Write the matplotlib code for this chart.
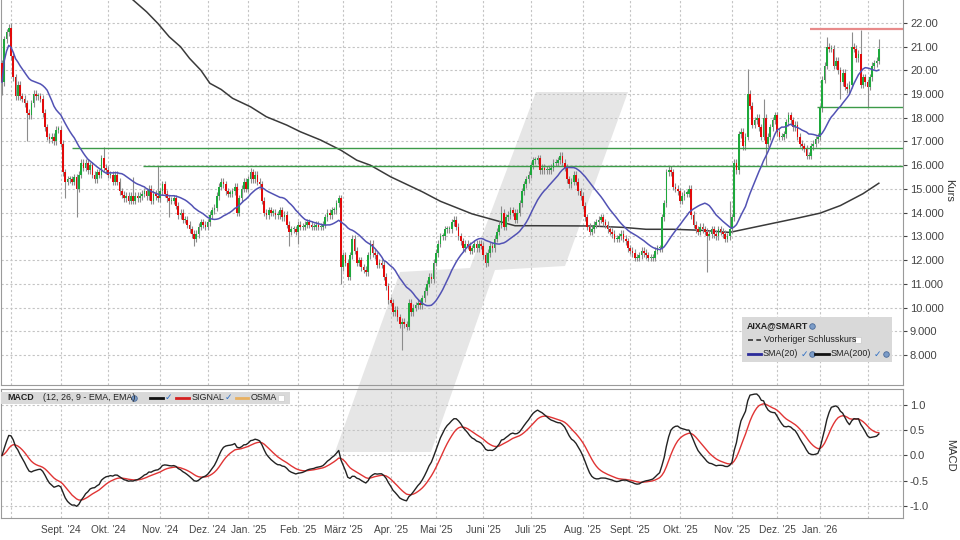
import numpy as np
import pandas as pd
import matplotlib
matplotlib.use("Agg")
import matplotlib.pyplot as plt
from matplotlib.patches import Polygon, Rectangle
from matplotlib.lines import Line2D

plt.rcParams['font.family'] = ['Liberation Sans', 'DejaVu Sans']

# Xetra trading days, end of July 2024 to early February 2026
holidays = ["2024-12-24", "2024-12-25", "2024-12-26", "2024-12-31", "2025-01-01",
            "2025-04-18", "2025-04-21", "2025-05-01", "2025-12-24", "2025-12-25",
            "2025-12-26", "2025-12-31", "2026-01-01"]
dates = pd.bdate_range("2024-07-26", "2026-02-09")
dates = dates[~dates.isin(pd.to_datetime(holidays))]

# daily closes
closes = [
    19.5, 21.3, 21.6, 21.8, 20.6, 19.7, 18.9, 19.4, 18.9, 18.8,
    18.6, 18.2, 18.1, 18.6, 19.0, 18.9, 18.9, 18.8, 18.2, 17.6,
    17.2, 17.1, 17.2, 17.0, 17.5, 17.5, 16.9, 15.7, 15.3, 15.4,
    15.4, 15.3, 15.5, 15.0, 15.6, 16.1, 15.9, 16.1, 15.8, 16.0,
    15.6, 15.4, 15.7, 15.6, 16.3, 15.9, 15.8, 15.6, 15.6, 15.3,
    15.6, 15.3, 14.9, 14.75, 14.6, 14.7, 14.5, 14.7, 14.5, 14.7,
    14.6, 14.7, 14.8, 14.9, 14.7, 15.0,
    14.5, 14.8, 14.7, 14.6, 14.9, 15.2, 14.8, 14.6, 14.5, 14.5,
    14.6, 14.3, 13.9, 14.0, 13.7, 13.7, 13.5, 13.3, 13.1, 12.9,
    13.1, 13.4, 13.6, 13.5, 13.4, 13.6, 13.9, 14.1, 14.2, 14.7,
    15.1, 15.3, 15.2, 14.9, 14.8, 14.8, 14.9, 15.1, 14.0, 14.6,
    15.0, 15.3, 15.0, 15.4, 15.7, 15.4, 15.6, 15.3, 15.2, 14.5,
    14.0, 13.9, 14.1, 14.0, 14.0, 13.9, 13.9, 14.1, 13.8, 13.9,
    13.5, 13.2,
    13.3, 13.3, 13.2, 13.5, 13.4, 13.4, 13.5, 13.6, 13.5, 13.4,
    13.4, 13.5, 13.4, 13.4, 13.5, 13.8, 14.0, 13.9, 14.1, 14.1,
    14.4, 14.6, 11.7, 12.2, 11.9, 11.3, 12.2, 12.9, 12.4, 11.9,
    12.0, 11.7, 11.6, 11.5, 12.2, 12.7, 12.3, 12.2, 11.8, 11.9,
    11.8, 11.3, 10.9, 10.3, 10.2, 9.8, 9.9, 9.6, 9.3, 9.4,
    9.3, 9.2, 10.2, 9.8, 10.0, 10.1, 10.2, 10.1, 10.4, 10.7,
    11.0, 11.3, 11.2, 11.9, 12.3, 12.7, 13.0,
    13.0, 13.3, 13.3, 13.3, 13.6, 13.7, 13.4, 13.0, 12.8, 12.5,
    12.7, 12.6, 12.4, 12.5, 12.7, 12.5, 12.7, 12.6, 12.2, 11.9,
    12.3, 12.6, 12.5, 12.9, 13.2, 13.5, 14.0, 13.4, 13.8, 13.9,
    14.1, 14.0, 13.7, 14.0, 14.4, 14.9, 15.2, 15.4, 15.6, 16.0,
    16.2, 16.2, 16.3, 15.8, 15.9, 15.8, 15.8, 15.8, 15.9, 16.1,
    16.1, 16.2, 16.4, 16.1, 15.9, 15.4, 15.2, 15.3, 15.6, 15.3,
    14.9, 14.7, 14.3, 13.8, 13.4, 13.2,
    13.3, 13.5, 13.6, 13.7, 13.8, 13.6, 13.5, 13.3, 13.2, 13.1,
    12.9, 12.9, 13.0, 13.1, 12.9, 12.8, 12.5, 12.4, 12.3, 12.1,
    12.1, 12.2, 12.4, 12.3, 12.2, 12.1, 12.1, 12.1, 12.4, 12.5,
    12.5, 13.8, 14.4, 15.7, 15.8, 15.7, 15.1, 15.0, 14.9, 14.5,
    14.7, 14.8, 14.8, 15.0, 13.9, 13.5, 13.3, 13.2, 13.4, 13.3,
    13.2, 13.0, 13.1, 13.3, 13.1, 13.0, 13.3, 13.2, 13.1, 12.9,
    13.0,
    13.3, 13.8, 16.1, 15.8, 17.3, 17.4, 16.8, 17.2, 19.0, 18.5,
    17.7, 17.9, 18.0, 17.6, 17.2, 18.0, 16.9, 17.2, 17.6, 17.9,
    18.1, 17.4, 17.2, 17.2, 17.3, 17.8, 18.1, 17.9, 17.6, 17.7,
    17.2, 16.9, 16.8, 16.7, 16.4, 16.4, 16.8, 16.9, 17.1, 17.2,
    18.4, 19.6, 20.2, 21.0, 20.9, 20.9, 20.2, 20.4, 20.0, 19.5,
    19.9, 19.3, 19.2, 19.4, 21.0, 20.9, 20.5, 20.7, 19.4, 19.7,
    19.5, 19.3, 19.7, 20.2, 20.3, 20.4, 20.9,
]
first_open = 20.3

# long wicks visible in the chart (trading day index -> price)
spike_highs = {4: 22.0, 45: 16.75, 58: 15.5, 69: 15.95, 110: 15.9, 221: 14.3,
               322: 14.5, 330: 20.07, 337: 18.8, 365: 21.4, 376: 21.6, 380: 21.7, 388: 21.3}
spike_lows = {0: 18.95, 11: 17.0, 28: 14.6, 33: 13.8, 74: 13.8, 85: 12.6, 127: 12.6,
              131: 12.7, 150: 11.0, 177: 8.2, 214: 11.7, 312: 11.5, 338: 16.0,
              371: 18.8, 383: 18.45}

# SMA(200) as drawn (trading day index, value)
sma200_days = [55, 58, 64, 69, 74, 79, 83, 88, 92, 97, 102, 110, 117, 126, 132, 141,
               150, 157, 163, 172, 186, 194, 208, 219, 227, 236, 260, 275, 285, 297,
               309, 322, 337, 352, 362, 371, 381, 388]
sma200_vals = [23.2, 22.96, 22.46, 21.97, 21.41, 20.99, 20.5, 20.0, 19.45, 19.19, 18.82,
               18.46, 18.04, 17.69, 17.41, 17.06, 16.63, 16.21, 16.0, 15.51, 14.88, 14.48,
               13.95, 13.66, 13.45, 13.45, 13.44, 13.38, 13.3, 13.3, 13.26, 13.17, 13.47,
               13.77, 13.98, 14.3, 14.8, 15.24]

# horizontal marker lines: level and first trading day
hline_levels = [21.72, 18.44, 16.71, 15.95]
hline_start = [357.5, 360.6, 31.0, 62.4]
hline_colors = ['#e88a8a', '#3c9a48', '#3c9a48', '#3c9a48']

price_ticks = [22, 21, 20, 19, 18, 17, 16, 15, 14, 13, 12, 11, 10, 9, 8]
price_labels = ["22.00", "21.00", "20.00", "19.000", "18.000", "17.000", "16.000",
                "15.000", "14.000", "13.000", "12.000", "11.000", "10.000", "9.000", "8.000"]
macd_ticks = [1.0, 0.5, 0.0, -0.5, -1.0]
month_labels = ["", "Sept. '24", "Okt. '24", "Nov. '24", "Dez. '24", "Jan. '25", "Feb. '25",
                "März '25", "Apr. '25", "Mai '25", "Juni '25", "Juli '25", "Aug. '25",
                "Sept. '25", "Okt. '25", "Nov. '25", "Dez. '25", "Jan. '26", ""]

c = pd.Series(closes, dtype=float)
n = len(c)
x = np.arange(n)
o = np.r_[first_open, c.values[:-1]]
body_lo = np.minimum(o, c.values)
body_hi = np.maximum(o, c.values)
hi = body_hi + 0.15
lo = body_lo - 0.15
for d, v in spike_highs.items():
    hi[d] = v
for d, v in spike_lows.items():
    lo[d] = v

sma20 = c.rolling(20, min_periods=1).mean()
macd = c.ewm(span=12, adjust=False).mean() - c.ewm(span=26, adjust=False).mean()
signal = macd.ewm(span=9, adjust=False).mean()

months = dates.to_period("M")
month_pos = np.flatnonzero(np.r_[True, months[1:] != months[:-1]])[1:]

W, H = 960, 540
fig = plt.figure(figsize=(9.6, 5.4), dpi=100, facecolor='white')
ax = fig.add_axes([1 / W, 1 - 385 / H, 902 / W, 385 / H])
mx = fig.add_axes([1 / W, 1 - 518 / H, 902 / W, 129 / H])

def fpt(px, py):
    return (px / W, 1 - py / H)

# watermark slash behind both panels
wm = [(536, 92), (628, 92), (565, 266), (495, 270), (431, 452), (335, 452), (400, 272), (470, 268)]
fig.patches.append(Polygon([fpt(*p) for p in wm], closed=True, transform=fig.transFigure,
                           facecolor='#e6e6e6', edgecolor='none', zorder=-1))

xmin, xmax = -0.44, 398.7
grid_kw = dict(color='#c4c4c4', linestyle=(0, (2, 2)), linewidth=0.8)

for a in (ax, mx):
    a.set_facecolor('none')
    a.set_xlim(xmin, xmax)
    a.set_xticks(month_pos)
    a.grid(True, **grid_kw)
    a.set_axisbelow(True)
    a.yaxis.tick_right()
    a.tick_params(axis='y', labelsize=8, colors='#444444', length=3, pad=2)
    for s in a.spines.values():
        s.set_color('#9a9a9a')

# price panel
ax.set_ylim(6.74, 22.96)
ax.set_yticks(price_ticks)
ax.set_yticklabels(price_labels)
ax.tick_params(axis='x', length=0, labelbottom=False)
ax.spines['top'].set_visible(False)

ax.plot(sma200_days, sma200_vals, color='#3a3a3a', lw=1.1, zorder=1)
ax.vlines(x, lo, hi, color='#8c8c8c', lw=0.8, zorder=2)
up = c.values >= o
ax.bar(x, np.maximum(body_hi - body_lo, 0.05), bottom=body_lo, width=0.75,
       color=np.where(up, '#1ea83c', '#e20a0a'), linewidth=0, zorder=3)
ax.plot(x, sma20, color='#5252b4', lw=1.1, zorder=4)
for lvl, st, col in zip(hline_levels, hline_start, hline_colors):
    ax.hlines(lvl, st, xmax, color=col, lw=1.6 if col == '#e88a8a' else 1.0, zorder=2.5)

# MACD panel
mx.set_ylim(-1.238, 1.317)
mx.set_yticks(macd_ticks)
mx.set_yticklabels([f"{t:.1f}" for t in macd_ticks])
mx.set_xticklabels(month_labels)
mx.tick_params(axis='x', labelsize=7.3, colors='#444444', length=0, pad=5)
mx.plot(x, signal, color='#e03434', lw=1.0, zorder=3)
mx.plot(x, macd, color='#222222', lw=1.0, zorder=4)

fig.text(*fpt(949, 190), "Kurs", rotation=270, ha='center', va='center', fontsize=8, color='#333333')
fig.text(*fpt(950, 455), "MACD", rotation=270, ha='center', va='center', fontsize=8, color='#333333')

def seg(x0, x1, y, **kw):
    (a0, b0), (a1, _) = fpt(x0, y), fpt(x1, y)
    fig.lines.append(Line2D([a0, a1], [b0, b0], transform=fig.transFigure, zorder=6, **kw))

def dot(px, py, **kw):
    a0, b0 = fpt(px, py)
    fig.lines.append(Line2D([a0], [b0], transform=fig.transFigure, zorder=6, **kw))

globe = dict(marker='o', markersize=4, markerfacecolor='#7b9cc8', markeredgecolor='#4a6a98',
             markeredgewidth=0.6, linestyle='none')
box = dict(marker='s', markersize=4.5, markerfacecolor='white', markeredgecolor='#cfcfcf',
           markeredgewidth=0.6, linestyle='none')
check = dict(fontsize=6.5, color='#2f6fc4', ha='center', va='center', family=['DejaVu Sans'],
             fontweight='bold', zorder=7)
txt = dict(fontsize=6.4, color='#222222', va='center', zorder=7)

# legend box in price panel
bx, by = fpt(741.7, 361.7)
fig.patches.append(Rectangle((bx, by), 150.6 / W, 44.4 / H, transform=fig.transFigure,
                             facecolor='#d9d9d9', edgecolor='none', zorder=5))
fig.text(*fpt(747, 326), "AIXA@SMART", fontweight='bold', **txt)
dot(812, 326, **globe)
seg(748, 761, 339.5, color='#333333', lw=1.2, linestyle=(0, (3, 2)))
fig.text(*fpt(764, 339.5), "Vorheriger Schlusskurs", **txt)
dot(858, 339.5, **box)
seg(748, 761, 354, color='#2b2b9a', lw=2)
fig.text(*fpt(763, 354), "SMA(20)", **txt)
fig.text(*fpt(804, 354), "✓", **check)
dot(812, 354, **globe)
seg(815, 829, 354, color='#111111', lw=2)
fig.text(*fpt(831, 354), "SMA(200)", **txt)
fig.text(*fpt(877, 354), "✓", **check)
dot(886, 354, **globe)

# MACD header box
bx, by = fpt(1, 403.5)
fig.patches.append(Rectangle((bx, by), 289 / W, 12 / H, transform=fig.transFigure,
                             facecolor='#d9d9d9', edgecolor='none', zorder=5))
fig.text(*fpt(7, 397.5), "MACD", fontweight='bold', **txt)
fig.text(*fpt(43, 397.5), "(12, 26, 9 - EMA, EMA)", **txt)
dot(134, 397.5, **globe)
seg(150, 163, 397.5, color='#111111', lw=2)
fig.text(*fpt(168, 397.5), "✓", **check)
seg(176, 189, 397.5, color='#d42020', lw=2)
fig.text(*fpt(192, 397.5), "SIGNAL", **txt)
fig.text(*fpt(228, 397.5), "✓", **check)
seg(236, 248, 397.5, color='#e8b060', lw=2)
fig.text(*fpt(251, 397.5), "OSMA", **txt)
dot(281, 397.5, **box)

fig.savefig("out.png", dpi=100, facecolor='white')
